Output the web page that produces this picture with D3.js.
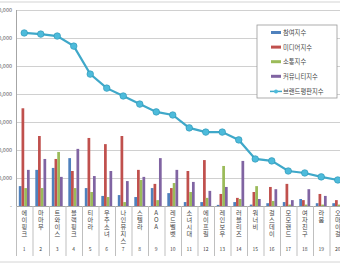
<!DOCTYPE html>
<html>
<head>
<meta charset="utf-8">
<script src="https://cdn.jsdelivr.net/npm/d3@7"></script>
<style>
  body { margin: 0; background: #fff; }
  svg { display: block; font-family: "Noto Sans CJK KR", "Noto Sans", sans-serif; }
</style>
</head>
<body>
<svg id="chart"></svg>
<script>
// girl group brand reputation, 20 groups
let groups = ['에이핑크', '마마무', '트와이스', '블랙핑크', '티아라', '우주소녀', '나인뮤지스', '스텔라', 'AOA', '레드벨벳',
    '소녀시대', '에이프릴', '레인보우', '러블리즈', '워너비', '걸스데이', '모모랜드', '여자친구', '라붐', '오마이걸'];
let ranks = d3.range(1, 21);

let participation = [710000, 1290000, 1360000, 1710000, 640000, 360000, 390000, 320000, 640000, 460000,
    140000, 140000, 40000, 140000, 50000, 100000, 140000, 250000, 100000, 100000];
let media = [3490000, 2500000, 1680000, 1250000, 2430000, 2210000, 2500000, 1290000, 790000, 640000,
    1250000, 1640000, 430000, 290000, 500000, 680000, 790000, 210000, 430000, 210000];
let communication = [640000, 640000, 1930000, 640000, 500000, 320000, 140000, 930000, 210000, 820000,
    500000, 290000, 1430000, 250000, 710000, 180000, 50000, 50000, 50000, 50000];
let community = [1290000, 1680000, 1040000, 2040000, 1070000, 1250000, 890000, 1040000, 1710000, 1290000,
    860000, 540000, 680000, 1610000, 250000, 600000, 210000, 600000, 360000, 300000];
let brandIndex = [6180000, 6140000, 6070000, 5710000, 4710000, 4210000, 3930000, 3640000, 3360000, 3250000,
    2790000, 2640000, 2640000, 2360000, 1680000, 1610000, 1250000, 1180000, 1040000, 930000];

let seriesNames = ['참여지수', '미디어지수', '소통지수', '커뮤니티지수'];
let lineName = '브랜드평판지수';
let yTicks = [0, 1000000, 2000000, 3000000, 4000000, 5000000, 6000000, 7000000];

let colors = ['#4F81BD', '#C0504D', '#9BBB59', '#8064A2'];
let lineColor = '#3FA8C9';

let width = 340, height = 268;
let config = {
    left: 16,
    right: 346,      // plot runs past the right edge of the picture
    top: 10,
    base: 206
};

let svg = d3.select('#chart').attr('width', width).attr('height', height);

// chart border
svg.append('rect')
    .attr('x', -1).attr('y', 2)
    .attr('width', width + 2).attr('height', 260)
    .attr('fill', '#fff')
    .attr('stroke', '#d4d4d4');

let xScale = d3.scaleBand()
    .domain(groups)
    .range([config.left, config.right])
    .paddingInner(0.34)
    .paddingOuter(0.17);
let xInner = d3.scaleBand()
    .domain(seriesNames)
    .range([0, xScale.bandwidth()]);
let yScale = d3.scaleLinear()
    .domain([0, 7000000])
    .range([config.base, config.top]);
let step = xScale.step();

// gridlines
svg.append('g')
    .selectAll('line')
    .data(yTicks.slice(1))
    .join('line')
    .attr('x1', config.left).attr('x2', config.right)
    .attr('y1', d => yScale(d) + 0.5).attr('y2', d => yScale(d) + 0.5)
    .attr('stroke', '#d0d0d0');

// y labels (partly cut off at the left edge, like the source)
svg.append('g')
    .selectAll('text')
    .data(yTicks)
    .join('text')
    .attr('x', 12)
    .attr('y', d => yScale(d) + 2)
    .attr('text-anchor', 'end')
    .attr('font-size', '5.5px')
    .attr('fill', '#555')
    .text(d => d === 0 ? '-' : d3.format(',')(d));

// bars
let rows = groups.map((g, i) => ({
    name: g,
    values: [participation[i], media[i], communication[i], community[i]]
}));
let barGroups = svg.append('g')
    .selectAll('g')
    .data(rows)
    .join('g')
    .attr('transform', d => `translate(${xScale(d.name)},0)`);
barGroups.selectAll('rect')
    .data(d => d.values.map((v, k) => ({key: seriesNames[k], value: v, k: k})))
    .join('rect')
    .attr('x', d => xInner(d.key))
    .attr('y', d => yScale(d.value))
    .attr('width', xInner.bandwidth())
    .attr('height', d => config.base - yScale(d.value))
    .attr('fill', d => colors[d.k]);

// axes lines
svg.append('line')
    .attr('x1', config.left + 0.5).attr('x2', config.left + 0.5)
    .attr('y1', config.top).attr('y2', config.base)
    .attr('stroke', '#a6a6a6');
svg.append('line')
    .attr('x1', config.left).attr('x2', config.right)
    .attr('y1', config.base + 0.5).attr('y2', config.base + 0.5)
    .attr('stroke', '#a6a6a6');

// category separators in the label area
svg.append('g')
    .selectAll('line')
    .data(d3.range(groups.length + 1))
    .join('line')
    .attr('x1', i => config.left + i * step + 0.5)
    .attr('x2', i => config.left + i * step + 0.5)
    .attr('y1', config.base)
    .attr('y2', 256)
    .attr('stroke', '#bfbfbf');

// vertical stacked names
svg.append('g')
    .selectAll('text')
    .data(groups)
    .join('text')
    .attr('x', d => xScale(d) + xScale.bandwidth() / 2)
    .attr('y', 210)
    .style('writing-mode', 'vertical-rl')
    .style('text-orientation', 'upright')
    .style('letter-spacing', '0.6px')
    .attr('font-size', '6.2px')
    .attr('fill', '#444')
    .text(d => d);

// rank numbers
svg.append('g')
    .selectAll('text')
    .data(groups)
    .join('text')
    .attr('x', d => xScale(d) + xScale.bandwidth() / 2)
    .attr('y', 251)
    .attr('text-anchor', 'middle')
    .attr('font-size', '5px')
    .attr('fill', '#444')
    .text((d, i) => ranks[i]);

// brand index line
let line = d3.line()
    .x((d, i) => xScale(groups[i]) + xScale.bandwidth() / 2)
    .y(d => yScale(d));
svg.append('path')
    .datum(brandIndex)
    .attr('d', line)
    .attr('fill', 'none')
    .attr('stroke', lineColor)
    .attr('stroke-width', 2.2);
svg.append('g')
    .selectAll('circle')
    .data(brandIndex)
    .join('circle')
    .attr('cx', (d, i) => xScale(groups[i]) + xScale.bandwidth() / 2)
    .attr('cy', d => yScale(d))
    .attr('r', 3.3)
    .attr('fill', '#4DBBDB')
    .attr('stroke', '#2B93B4')
    .attr('stroke-width', 0.6);

// legend
let legend = svg.append('g').attr('transform', 'translate(257,25)');
legend.append('rect')
    .attr('width', 80).attr('height', 73)
    .attr('fill', '#fff')
    .attr('stroke', '#9a9a9a')
    .attr('stroke-width', 0.8);
let items = legend.selectAll('g')
    .data(seriesNames.concat([lineName]))
    .join('g')
    .attr('transform', (d, i) => `translate(0,${8 + i * 14.6})`);
items.filter((d, i) => i < 4)
    .append('rect')
    .attr('x', 14).attr('y', -2)
    .attr('width', 10).attr('height', 3)
    .attr('fill', (d, i) => colors[i]);
let lineItem = items.filter((d, i) => i === 4);
lineItem.append('line')
    .attr('x1', 13).attr('x2', 25)
    .attr('y1', 0).attr('y2', 0)
    .attr('stroke', lineColor).attr('stroke-width', 1.5);
lineItem.append('circle')
    .attr('cx', 19).attr('cy', 0).attr('r', 2)
    .attr('fill', '#4DBBDB');
items.append('text')
    .attr('x', 26)
    .attr('y', 2.2)
    .attr('font-size', '6.3px')
    .attr('fill', '#444')
    .text(d => d);
</script>
</body>
</html>
